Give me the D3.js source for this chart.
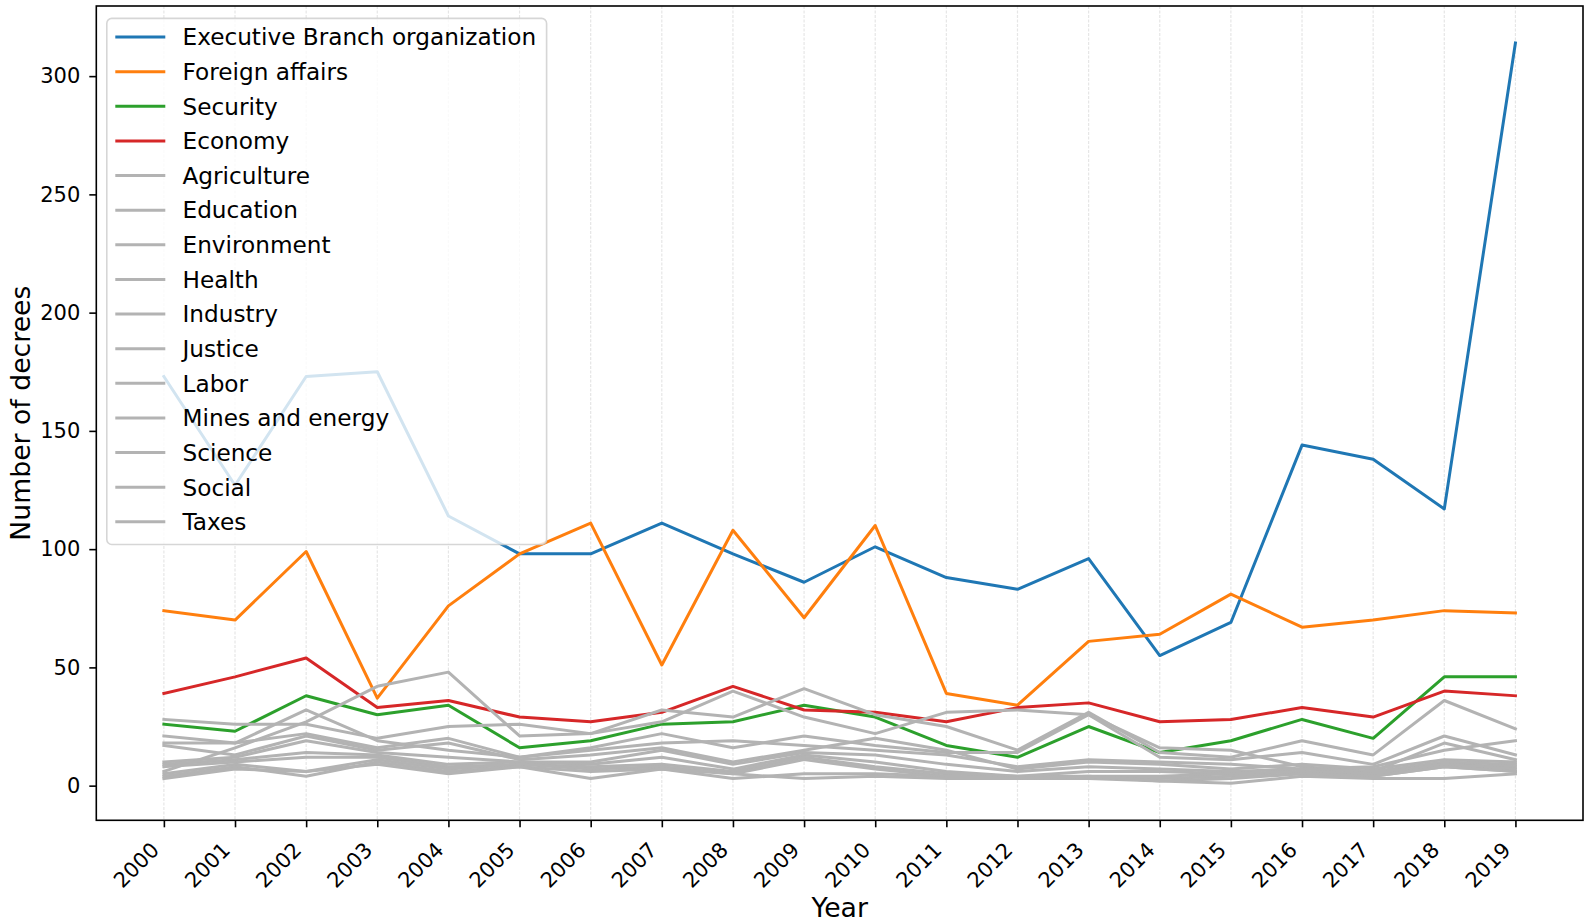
<!DOCTYPE html>
<html>
<head>
<meta charset="utf-8">
<script src="https://cdn.jsdelivr.net/npm/d3@7"></script>
<style>
  html, body { margin: 0; padding: 0; background: #fff; }
  svg { display: block; font-family: "DejaVu Sans", sans-serif; }
  svg text { font-family: "DejaVu Sans", sans-serif; }
</style>
</head>
<body>
<svg id="chart" width="1590" height="923"></svg>
<script>
// ---- data ----
const years = [2000, 2001, 2002, 2003, 2004, 2005, 2006, 2007, 2008, 2009,
               2010, 2011, 2012, 2013, 2014, 2015, 2016, 2017, 2018, 2019];
const yTicks = [0, 50, 100, 150, 200, 250, 300];

const executiveBranch = [173, 127, 173, 175, 114, 98, 98, 111, 98, 86, 101, 88, 83, 96, 55, 69, 144, 138, 117, 314];
const foreignAffairs  = [74, 70, 99, 37, 76, 98, 111, 51, 108, 71, 110, 39, 34, 61, 64, 81, 67, 70, 74, 73];
const security        = [26, 23, 38, 30, 34, 16, 19, 26, 27, 34, 29, 17, 12, 25, 14, 19, 28, 20, 46, 46];
const economy         = [39, 46, 54, 33, 36, 29, 27, 31, 42, 32, 31, 27, 33, 35, 27, 28, 33, 29, 40, 38];

const agriculture   = [6, 16, 27, 42, 48, 21, 22, 32, 29, 41, 30, 25, 15, 31, 14, 12, 19, 13, 36, 24];
const education     = [28, 26, 26, 20, 25, 26, 22, 27, 40, 29, 22, 31, 32, 30, 12, 11, 14, 9, 21, 13];
const environment   = [21, 18, 32, 19, 15, 12, 16, 22, 16, 21, 17, 14, 14, 30, 16, 15, 8, 6, 18, 11];
const health        = [18, 18, 22, 16, 20, 12, 15, 18, 19, 17, 15, 13, 8, 11, 10, 9, 7, 8, 15, 19];
const industry      = [17, 13, 21, 15, 18, 11, 13, 16, 10, 15, 20, 15, 7, 10, 9, 7, 9, 7, 11, 10];
const justice       = [10, 12, 19, 14, 12, 10, 10, 15, 9, 14, 13, 9, 6, 8, 7, 6, 7, 6, 10, 9];
const labor         = [9, 11, 14, 13, 9, 10, 9, 12, 7, 13, 10, 6, 4, 6, 6, 5, 6, 5, 9, 8];
const minesEnergy   = [8, 10, 12, 12, 8, 9, 8, 9, 6, 12, 8, 5, 4, 4, 4, 5, 6, 5, 9, 7];
const science       = [5, 9, 6, 11, 7, 9, 7, 8, 5, 11, 7, 4, 3, 3, 3, 4, 5, 4, 8, 6];
const social        = [4, 8, 4, 10, 6, 8, 6, 7, 3, 5, 5, 4, 3, 3, 2, 3, 5, 4, 8, 6];
const taxes         = [3, 7, 6, 9, 5, 8, 3, 7, 5, 3, 4, 3, 3, 4, 2, 1, 4, 3, 3, 5];

const seriesNames = ["Executive Branch organization", "Foreign affairs", "Security", "Economy",
  "Agriculture", "Education", "Environment", "Health", "Industry", "Justice", "Labor",
  "Mines and energy", "Science", "Social", "Taxes"];
const seriesValues = [executiveBranch, foreignAffairs, security, economy,
  agriculture, education, environment, health, industry, justice, labor,
  minesEnergy, science, social, taxes];
const highlightColors = ["#1f77b4", "#ff7f0e", "#2ca02c", "#d62728"];
const grayColor = "#b3b3b3";

// ---- layout ----
const svg = d3.select("#chart");
const mLeft = 96.3, mRight = 1583, mTop = 6, mBottom = 820.3;
const FONT = "DejaVu Sans";
const TICK_FS = 21;

const series = seriesNames.map((name, i) => ({
  name, values: seriesValues[i], color: i < 4 ? highlightColors[i] : grayColor
}));

const allVals = seriesValues.flat();
const vMin = d3.min(allVals), vMax = d3.max(allVals);
const pad = (vMax - vMin) * 0.05;

const x = d3.scaleLinear().domain([-0.95, years.length - 1 + 0.95]).range([mLeft, mRight]);
const y = d3.scaleLinear().domain([vMin - pad, vMax + pad]).range([mBottom, mTop]);

// grid (vertical)
svg.append("g").selectAll("line").data(years).join("line")
  .attr("x1", (d, i) => x(i)).attr("x2", (d, i) => x(i))
  .attr("y1", mTop).attr("y2", mBottom)
  .attr("stroke", "#e6e6e6").attr("stroke-width", 1.2)
  .attr("stroke-dasharray", "3,1.5");

// lines
const line = d3.line().x((d, i) => x(i)).y(d => y(d));
svg.append("g").selectAll("path").data(series).join("path")
  .attr("d", d => line(d.values))
  .attr("fill", "none")
  .attr("stroke", d => d.color)
  .attr("stroke-width", 3)
  .attr("stroke-linejoin", "round")
  .attr("stroke-linecap", "square");

// axes
const xAxis = d3.axisBottom(x).tickValues(d3.range(years.length)).tickFormat(i => years[i])
  .tickSize(7).tickPadding(7);
const gx = svg.append("g").attr("transform", `translate(0,${mBottom})`).call(xAxis)
  .attr("font-family", FONT).attr("font-size", TICK_FS);
gx.select(".domain").remove();
gx.selectAll("line").attr("stroke", "#000").attr("stroke-width", 1.6);
gx.selectAll("text")
  .attr("font-family", FONT).attr("font-size", TICK_FS).attr("fill", "#000")
  .attr("text-anchor", "end")
  .attr("x", 0).attr("y", 0).attr("dy", 0)
  .attr("transform", "translate(-4,31) rotate(-45)");

const yAxis = d3.axisLeft(y).tickValues(yTicks).tickSize(7).tickPadding(9);
const gy = svg.append("g").attr("transform", `translate(${mLeft},0)`).call(yAxis)
  .attr("font-family", FONT).attr("font-size", TICK_FS);
gy.select(".domain").remove();
gy.selectAll("line").attr("stroke", "#000").attr("stroke-width", 1.6);
gy.selectAll("text").attr("font-family", FONT).attr("font-size", TICK_FS).attr("fill", "#000");

// frame
svg.append("rect").attr("x", mLeft).attr("y", mTop)
  .attr("width", mRight - mLeft).attr("height", mBottom - mTop)
  .attr("fill", "none").attr("stroke", "#000").attr("stroke-width", 1.6);

// axis labels
svg.append("text").attr("x", (mLeft + mRight) / 2).attr("y", 917)
  .attr("font-family", FONT)
  .attr("text-anchor", "middle").attr("font-size", 26.7).text("Year");
svg.append("text").attr("transform", `translate(29.5,${(mTop + mBottom) / 2}) rotate(-90)`)
  .attr("font-family", FONT)
  .attr("text-anchor", "middle").attr("font-size", 26.7).text("Number of decrees");

// legend
const lg = svg.append("g");
lg.append("rect").attr("x", 106.8).attr("y", 18.4)
  .attr("width", 546.6 - 106.8).attr("height", 544.5 - 18.4)
  .attr("rx", 5).attr("ry", 5)
  .attr("fill", "#fff").attr("fill-opacity", 0.8)
  .attr("stroke", "#cccccc").attr("stroke-opacity", 0.8).attr("stroke-width", 1.6);
const rowH = 34.63;
const rows = lg.selectAll("g.row").data(series).join("g")
  .attr("class", "row")
  .attr("transform", (d, i) => `translate(0,${37 + i * rowH})`);
rows.append("line").attr("x1", 115.3).attr("x2", 165.3).attr("y1", 0).attr("y2", 0)
  .attr("stroke", d => d.color).attr("stroke-width", 3);
rows.append("text").attr("x", 182.5).attr("y", 8.3)
  .attr("font-family", FONT)
  .attr("font-size", 23.2).attr("fill", "#000").text(d => d.name);
</script>
</body>
</html>
